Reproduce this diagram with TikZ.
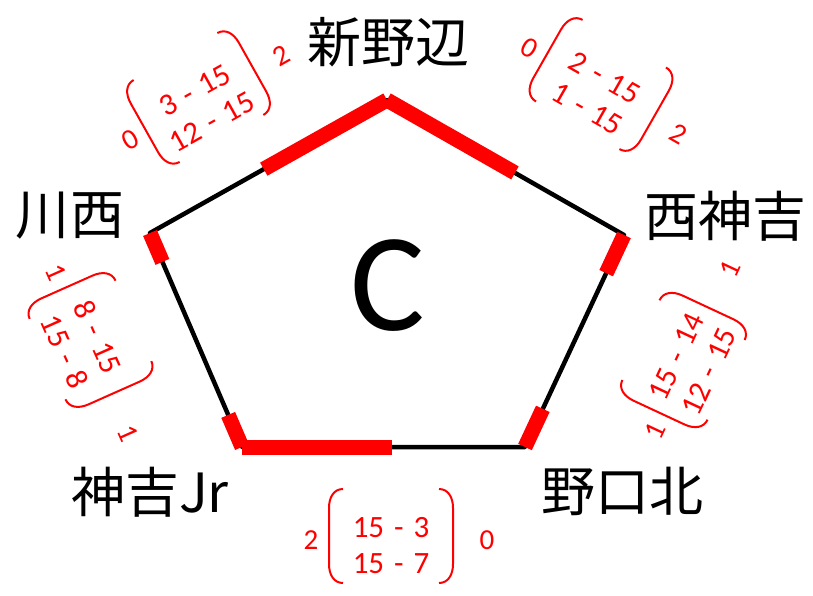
\documentclass[tikz,border=0pt]{standalone}
\usepackage{fontspec}
\setmainfont{Carlito}
\newfontfamily\jpfont{Noto Sans CJK JP}
\usetikzlibrary{calc}
\newcommand\gp{\hspace{0.32em}}
\tikzset{
  edgeline/.style={line width=4.5pt, black, line join=round},
  hot/.style={line width=15pt, red, line cap=butt},
  station/.style={font=\jpfont\fontsize{54}{54}\selectfont, inner sep=0pt},
  pair/.style={font=\fontsize{31}{31}\selectfont, text=red, inner sep=0pt},
  side/.style={font=\fontsize{29}{29}\selectfont, text=red, inner sep=0pt},
  brk/.style={red, line width=2pt},
}
\newcommand\mgroup[9]{%
  \begin{scope}[shift={#2},rotate=#3,transform shape]
    \node[pair] (#1a) at (0,-8) {#5};
    \node[pair] (#1b) at (0,28) {#6};
    \draw[brk] (-#4+14,-47) .. controls (-#4+5,-47) and (-#4,-39) .. (-#4,-28) -- (-#4,28) .. controls (-#4,39) and (-#4+5,47) .. (-#4+14,47);
    \draw[brk] (#4-14,-47) .. controls (#4-5,-47) and (#4,-39) .. (#4,-28) -- (#4,28) .. controls (#4,39) and (#4-5,47) .. (#4-14,47);
    \node[side] (#1l) at (-#4-18,4) {#7};
    \node[side] (#1r) at (#4+#9,4) {#8};
  \end{scope}}
\begin{document}
\begin{tikzpicture}[x=1pt,y=-1pt]
  \useasboundingbox (0,0) rectangle (813,596);
  \coordinate (T) at (387,100);
  \coordinate (L) at (150,233);
  \coordinate (R) at (624,235);
  \coordinate (BL) at (242,447);
  \coordinate (BR) at (525,447);
  \draw[edgeline] (T) -- (R) -- (BR) -- (BL) -- (L) -- cycle;
  \draw[hot] (T) -- ($(T)!0.52!(L)$);
  \draw[hot] (T) -- ($(T)!0.54!(R)$);
  \draw[hot] (L) -- ($(L)!0.135!(BL)$);
  \draw[hot] (R) -- ($(R)!0.18!(BR)$);
  \draw[hot] (BL) -- ($(BL)!0.15!(L)$);
  \draw[hot] (BL) -- ($(BL)!0.53!(BR)$);
  \draw[hot] (BR) -- ($(BR)!0.18!(R)$);
  \node[font=\fontsize{140}{140}\selectfont, inner sep=0pt] (C) at (388,286) {C};
  \node[station] (shin) at (388,42) {新野辺};
  \node[station] (kawa) at (70,216) {川西};
  \node[station] (nishi) at (725,216) {西神吉};
  \node[station] (kanJr) at (150,492) {神吉Jr};
  \node[station] (noguchi) at (622,491) {野口北};
  \mgroup{tl}{(198.5,97.5)}{29.3}{62}{3\gp-\gp15}{12\gp-\gp15}{0}{2}{31}
  \mgroup{tr}{(601,84.5)}{-29.7}{62}{2\gp-\gp15}{1\gp-\gp15}{0}{2}{30}
  \mgroup{lf}{(90.5,340)}{-66}{58}{8\gp-\gp15}{15\gp-\gp8}{1}{1}{43}
  \mgroup{rt}{(683.5,360)}{65}{58}{15\gp-\gp14}{12\gp-\gp15}{1}{1}{44}
  \mgroup{bt}{(391,536)}{0}{62}{15\gp-\gp3}{15\gp-\gp7}{2}{0}{34}
\end{tikzpicture}
\end{document}
